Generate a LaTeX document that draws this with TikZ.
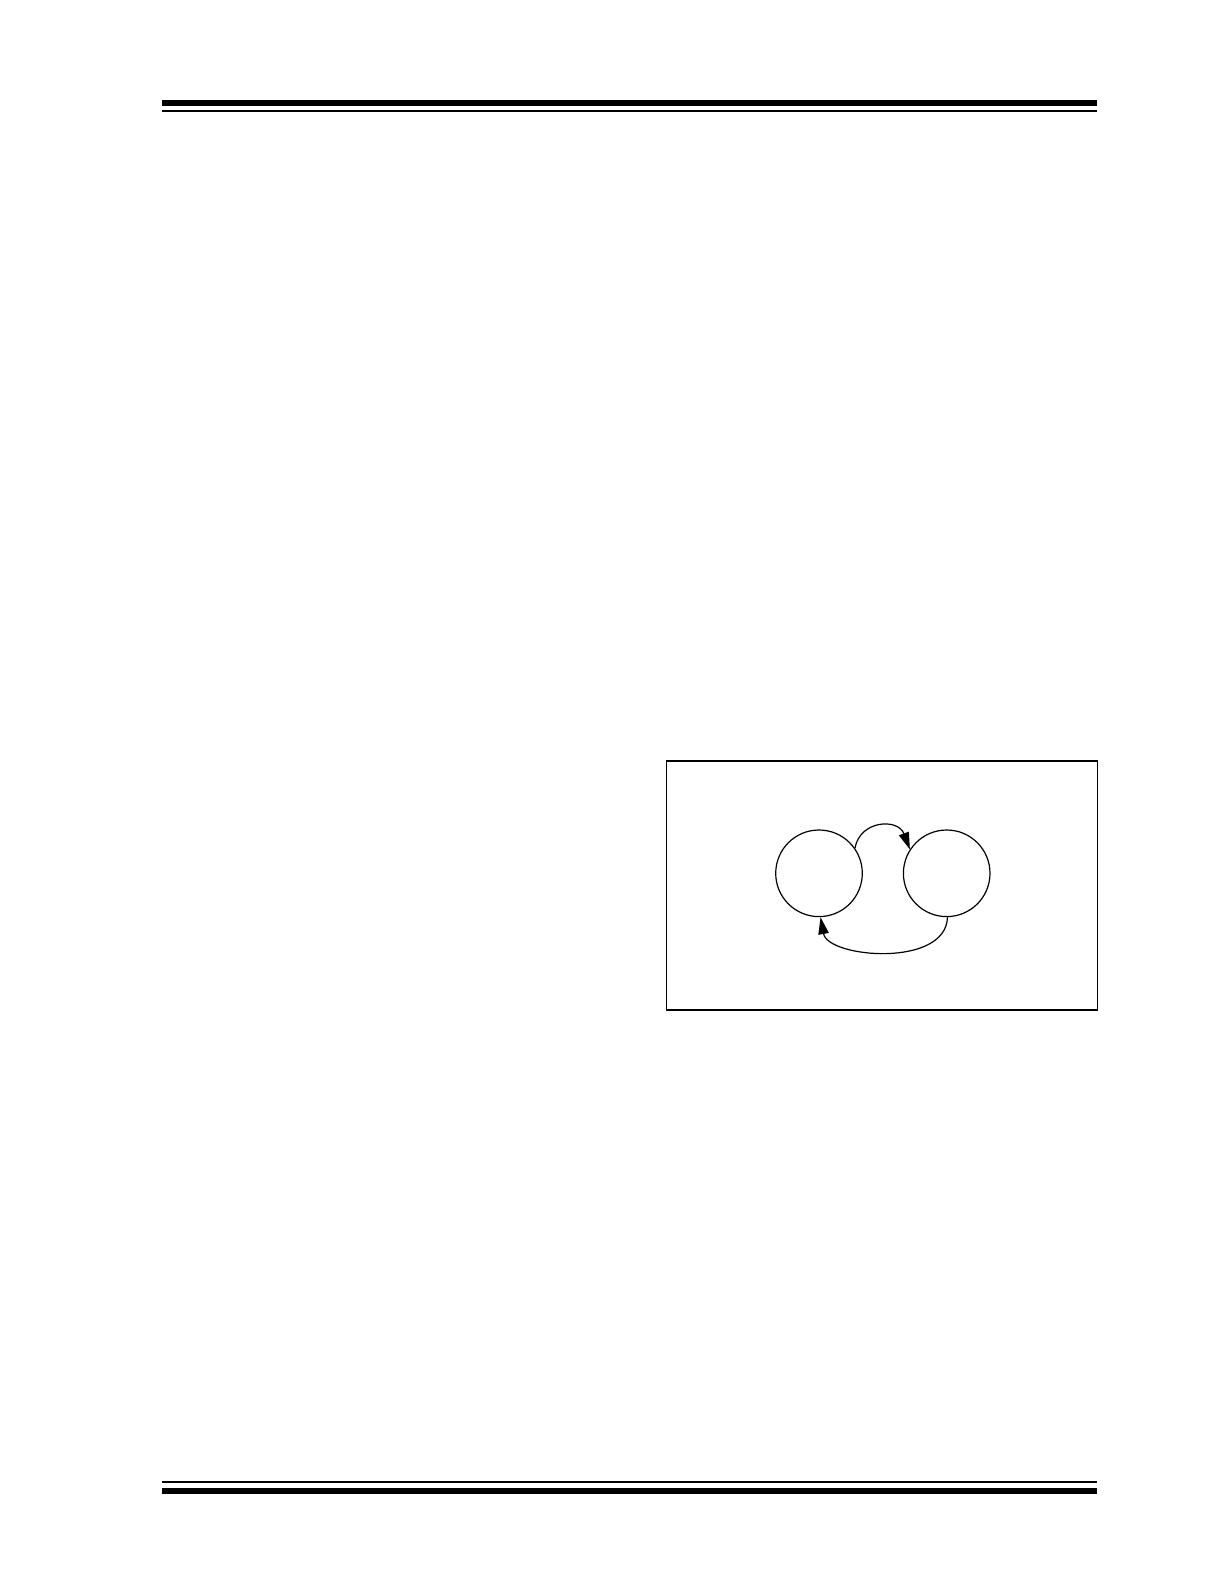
\documentclass[tikz,border=0pt]{standalone}
\usetikzlibrary{arrows.meta}
\begin{document}
\begin{tikzpicture}[x=0.5pt, y=-0.5pt, >={Triangle[length=8.5pt, width=5.2pt]}]
    \useasboundingbox (0,0) rectangle (1224,1584);

    % ヘッダとフッタの罫線
    \draw[line width=2.85pt] (162,102.85) -- (1097.3,102.85);
    \draw[line width=1pt] (162,110.7) -- (1097.3,110.7);
    \draw[line width=1pt] (162,1482) -- (1097.3,1482);
    \draw[line width=3.1pt] (162,1490.9) -- (1097.3,1490.9);

    \draw[line width=0.6pt] (666.3,761) rectangle (1097.3,1010);

    \node[circle, draw, line width=0.6pt, inner sep=0pt, minimum size=43.3pt] (A) at (819, 873.3) {};
    \node[circle, draw, line width=0.6pt, inner sep=0pt, minimum size=43.3pt] (B) at (946.7, 873.3) {};

    \draw[line width=0.6pt, ->] (A.35) .. controls (860,820) and (898,818) .. (B.147);
    \draw[line width=0.6pt, ->] (B.271) .. controls (946,968) and (828,958) .. (A.272);

\end{tikzpicture}
\end{document}
